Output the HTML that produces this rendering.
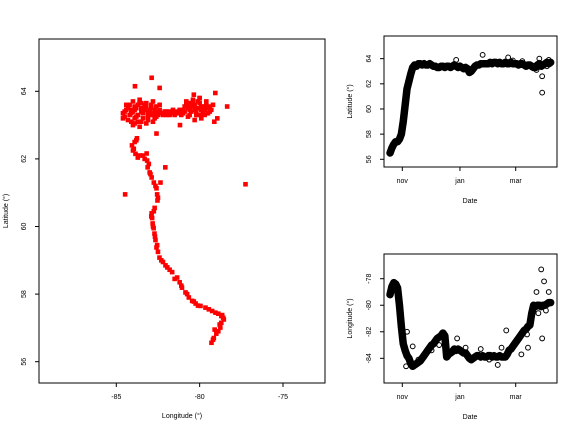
<!DOCTYPE html>
<html><head><meta charset="utf-8"><style>
html,body{margin:0;padding:0;background:#fff;}
svg{display:block;font-family:"Liberation Sans",sans-serif;}
</style></head><body>
<svg id="fig" width="576" height="432" viewBox="0 0 576 432">
<g id="mapPanel"></g>
<g id="latPanel"></g>
<g id="lonPanel"></g>
</svg>
<script>
// ---- Map scatter data (longitude, latitude) ----
const mapLon = [-84.5,-84.3,-84.1,-83.9,-83.7,-83.5,-83.3,-83.1,-82.9,-82.7,-82.5,-82.3,-82.1,-81.9,-81.7,-81.5,-81.3,-81.1,-80.9,-80.7,-80.5,-80.3,-80.1,-79.9,-79.7,-79.5,-79.3,
 -84.6,-84.2,-83.8,-83.4,-83.0,-82.6,-82.2,-81.8,-81.0,-80.6,-80.2,-79.8,-79.4,
 -84.4,-84.0,-83.6,-83.2,-82.8,-82.4,-80.8,-80.4,-80.0,-79.6,-79.2,-83.9,-83.5,-83.1,-82.7,-80.3,-79.9,
 -84.0,-83.6,-83.2,-82.8,-82.0,-81.6,-81.2,-80.6,-80.0,
 -84.6,-84.4,-84.2,-84.0,-83.8,-83.6,-83.4,-83.2,-83.0,-82.8,-82.6,-82.4,-82.2,-82.0,-81.8,-81.6,-81.4,-81.2,-81.0,-80.8,-80.6,-80.4,-80.2,-80.0,-79.8,-79.6,-79.4,
 -84.5,-84.3,-84.1,-83.9,-83.7,-83.5,-83.3,-83.1,-82.9,-82.7,-82.5,-80.9,-80.7,-80.5,-80.3,-80.1,-79.9,-79.7,-79.5,
 -84.3,-84.1,-83.9,-83.7,-83.5,-83.3,-83.1,-82.9,-80.7,-80.5,-80.3,-80.1,-79.9,-79.7,
 -83.76,-83.9,-84.06,-84.0,-83.85,-83.71,-83.4,-83.18,-83.15,-83.12,-83.0,-82.88,-82.75,-82.59,-82.55,-82.53,-82.7,-82.88,-82.85,-82.82,-82.76,-82.71,-82.65,-82.59,-82.5,-82.41,-82.2,-81.94,-81.65,-81.35,-81.2,-81.06,-80.85,-80.65,-80.45,-80.24,-79.95,-79.65,-79.25,-78.88,-78.7,-78.59,-78.7,-78.76,-78.88,-79.0,-79.15,-79.29,
 -83.8,-83.95,-83.6,-83.3,-83.05,-82.95,-82.65,-82.5,-82.75,-82.9,-82.8,-82.68,-82.55,-82.3,-82.05,-81.8,-81.5,-81.1,-80.75,-80.35,-80.1,-79.45,-79.05,-78.65,-78.55,-78.8,-79.1,-79.2,
 -82.88,-83.88,-84.47,-77.25,-82.59,-82.06,-82.35,-78.35,-79.06,-80.35,-81.18,-79.12,-78.94,-82.4];
const mapLat = [63.4,63.5,63.45,63.55,63.6,63.5,63.45,63.4,63.5,63.45,63.4,63.35,63.4,63.35,63.35,63.3,63.35,63.3,63.4,63.5,63.55,63.6,63.5,63.45,63.55,63.5,63.45,
 63.2,63.3,63.25,63.2,63.3,63.25,63.3,63.3,63.35,63.3,63.3,63.35,63.4,
 63.6,63.7,63.75,63.65,63.7,63.6,63.7,63.75,63.8,63.7,63.6,63.05,63.1,63.15,63.2,63.15,63.2,
 63.0,62.95,63.05,63.1,63.4,63.45,63.35,63.6,63.8,
 63.35,63.45,63.6,63.4,63.5,63.65,63.35,63.55,63.45,63.3,63.55,63.45,63.35,63.3,63.4,63.35,63.4,63.45,63.45,63.6,63.45,63.7,63.4,63.65,63.4,63.6,63.55,
 63.25,63.15,63.35,63.45,63.3,63.4,63.6,63.3,63.6,63.35,63.3,63.55,63.65,63.4,63.5,63.3,63.55,63.3,63.35,
 63.55,63.1,63.2,63.1,63.65,63.55,63.25,63.35,63.25,63.65,63.45,63.7,63.3,63.45,
 62.61,62.5,62.40,62.25,62.15,62.04,62.1,62.16,61.95,61.75,61.6,61.45,61.3,61.13,60.95,60.77,60.55,60.39,60.25,60.09,59.95,59.79,59.6,59.38,59.25,59.08,58.95,58.79,58.65,58.49,58.35,58.19,58.05,57.90,57.8,57.72,57.65,57.60,57.5,57.42,57.35,57.30,57.15,57.01,56.9,56.83,56.7,56.56,
 62.55,62.3,62.1,62.0,61.85,61.55,61.2,60.85,60.45,60.3,60.0,59.7,59.45,59.0,58.85,58.72,58.45,58.25,58.0,57.78,57.66,57.55,57.45,57.38,57.25,57.1,56.95,56.65,
 64.4,64.15,60.95,61.25,62.75,61.75,61.3,63.55,63.95,63.9,63.0,63.1,63.2,64.1];

// ---- Time series: latitude (sampled every 2 days from 19 Oct) ----
const latSeries = [56.5,56.9,57.2,57.4,57.4,57.6,58.0,59.0,60.3,61.6,
 62.2,62.8,63.3,63.5,63.4,63.6,63.6,63.5,63.6,63.5,
 63.5,63.6,63.5,63.4,63.4,63.3,63.3,63.4,63.4,63.3,
 63.4,63.4,63.3,63.4,63.5,63.4,63.3,63.4,63.3,63.2,
 63.3,63.2,62.9,63.0,63.2,63.4,63.5,63.5,63.6,63.6,
 63.6,63.6,63.6,63.7,63.6,63.7,63.7,63.6,63.7,63.6,
 63.6,63.7,63.6,63.6,63.7,63.6,63.6,63.6,63.5,63.6,
 63.6,63.5,63.4,63.5,63.5,63.4,63.3,63.3,63.5,63.6,
 63.4,63.5,63.6,63.7,63.6,63.7];
const latOutDays = [70,98,125,161,161,158,168,150,166,140,130,155];
const latOutVals = [63.9,64.3,64.1,62.6,61.3,64.0,63.9,63.3,63.4,63.8,63.85,63.1];

// ---- Time series: longitude ----
const lonSeries = [-79.2,-78.6,-78.3,-78.4,-78.7,-80.0,-81.6,-82.9,-83.4,-83.8,
 -84.0,-84.4,-84.6,-84.5,-84.4,-84.3,-84.2,-84.0,-83.8,-83.6,
 -83.4,-83.2,-83.0,-82.9,-82.7,-82.5,-82.4,-82.3,-82.1,-82.3,
 -83.9,-83.7,-83.6,-83.5,-83.3,-83.4,-83.3,-83.4,-83.5,-83.6,
 -83.6,-83.8,-84.0,-84.1,-84.0,-83.9,-83.8,-83.8,-83.9,-83.8,
 -83.9,-83.9,-83.8,-83.8,-83.9,-83.8,-83.9,-83.9,-83.8,-83.9,
 -83.9,-83.9,-83.7,-83.4,-83.3,-83.1,-82.9,-82.7,-82.5,-82.3,
 -82.1,-81.9,-81.8,-81.6,-81.5,-80.6,-80.0,-80.1,-80.0,-80.0,
 -80.1,-80.0,-80.0,-79.9,-79.8,-79.8];
const lonOutDays = [17,18,24,71,114,123,145,146,160,163,161,155,168,139,157,165,30,36,44,52,80,96,105,118];
const lonOutVals = [-84.6,-82.0,-83.1,-82.5,-84.5,-81.9,-82.2,-83.2,-77.3,-78.2,-82.5,-79.0,-79.0,-83.7,-80.6,-80.4,-84.1,-83.9,-83.4,-83.0,-83.2,-83.3,-84.1,-83.2];

const mapXTicks = [-85,-80,-75];
const mapYTicks = [56,58,60,62,64];
const latTicks = [56,58,60,62,64];
const lonTicks = [-84,-82,-80,-78];
const dateTickDays = [13,74,133];
const dateTickLabels = ['nov','jan','mar'];

const NS='http://www.w3.org/2000/svg';
function mk(parent,tag,attrs){const e=document.createElementNS(NS,tag);for(const k in attrs)e.setAttribute(k,attrs[k]);parent.appendChild(e);return e;}

function frame(g,x0,y0,x1,y1){
  const r=mk(g,'rect',{x:x0,y:y0,width:x1-x0,height:y1-y0,fill:'none',stroke:'#000','stroke-width':1});
  
  
}
function xAxis(g,ticks,labels,sx,y1,name){
  ticks.forEach((t,i)=>{
    const x=sx(t);
    const l=mk(g,'line',{x1:x,x2:x,y1:y1,y2:y1+4,stroke:'#000','stroke-width':1});
    
    
    const tx=mk(g,'text',{x:x,y:y1+16,'font-size':7,'text-anchor':'middle',fill:'#000'});
    tx.textContent=labels[i];
    
    
  });
}
function yAxis(g,ticks,sy,x0,name){
  ticks.forEach(t=>{
    const y=sy(t);
    const l=mk(g,'line',{x1:x0-4,x2:x0,y1:y,y2:y,stroke:'#000','stroke-width':1});
    
    
    const tx=mk(g,'text',{x:0,y:0,'font-size':7,'text-anchor':'middle',fill:'#000',transform:`translate(${x0-13},${y}) rotate(-90)`});
    tx.textContent=String(t);
    
    
  });
}
function label(g,x,y,txt,rot,name){
  const t=mk(g,'text',{x:0,y:0,'font-size':7,'text-anchor':'middle',fill:'#000',transform:`translate(${x},${y})`+(rot?' rotate(-90)':'')});
  t.textContent=txt;
  
  
}

// ---- Map panel ----
(function(){
  const g=document.getElementById('mapPanel');
  const X0=39,X1=325,Y0=39,Y1=383;
  const sx=v=>116.3+(v+85)*16.67;
  const sy=v=>361.7-(v-56)*33.8;
  mapLon.forEach((lo,i)=>{
    const r=mk(g,'rect',{x:sx(lo)-2.3,y:sy(mapLat[i])-2.3,width:4.6,height:4.6,fill:'#ff0000'});
    
    
  });
  frame(g,X0,Y0,X1,Y1);
  xAxis(g,mapXTicks,mapXTicks.map(String),sx,Y1,'longitude');
  yAxis(g,mapYTicks,sy,X0,'latitude');
  label(g,182,418,'Longitude (°)',false,'x-axis-title');
  label(g,8,211,'Latitude (°)',true,'y-axis-title');
})();

function tsPanel(id,series,outD,outV,ticks,sy,Y0,Y1,ylab,name){
  const g=document.getElementById(id);
  const X0=384,X1=557;
  const sx=d=>402.3+(d-13)*0.945;
  const pts=series.map((v,i)=>[sx(i*2),sy(v)]);
  const pl=mk(g,'polyline',{points:pts.map(p=>p.join(',')).join(' '),fill:'none',stroke:'#000','stroke-width':7.5,'stroke-linejoin':'round','stroke-linecap':'round'});
  
  
  pts.forEach(p=>{
    const c=mk(g,'circle',{cx:p[0],cy:p[1],r:2.4,fill:'none',stroke:'#000','stroke-width':1});
    
    
  });
  outD.forEach((d,i)=>{
    const c=mk(g,'circle',{cx:sx(d),cy:sy(outV[i]),r:2.4,fill:'none',stroke:'#000','stroke-width':1});
    
    
  });
  frame(g,X0,Y0,X1,Y1);
  xAxis(g,dateTickDays,dateTickLabels,sx,Y1,'date');
  yAxis(g,ticks,sy,X0,name);
  label(g,470,Y1+36,'Date',false,'x-axis-title');
  label(g,352,(Y0+Y1)/2,ylab,true,'y-axis-title');
}
tsPanel('latPanel',latSeries,latOutDays,latOutVals,latTicks,v=>159.3-(v-56)*12.58,36,167,'Latitude (°)','latitude');
tsPanel('lonPanel',lonSeries,lonOutDays,lonOutVals,lonTicks,v=>278.7+(-78-v)*13.27,254,383,'Longitude (°)','longitude');
</script>
</body></html>
